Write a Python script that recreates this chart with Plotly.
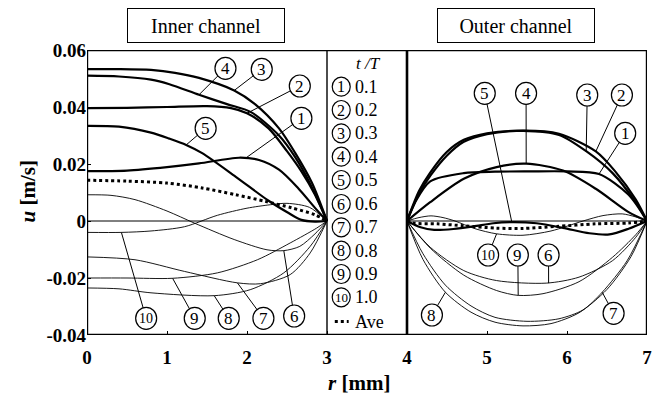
import plotly.graph_objects as go

# ---------------- data (r in mm, u in m/s) ----------------
# Inner channel (r = 0 .. 3)
r_in_1 = [0, 0.5, 1.0, 1.4, 1.9, 2.15, 2.4, 2.64, 2.85, 3.0]
u_in_1 = [0.0175, 0.0177, 0.0189, 0.0202, 0.0222, 0.0214, 0.0180, 0.0115, 0.0046, 0.0]
r_in_2 = [0, 0.5, 1.0, 1.5, 1.8, 2.0, 2.27, 2.5, 2.68, 2.85, 3.0]
u_in_2 = [0.0396, 0.0397, 0.0400, 0.0403, 0.0396, 0.0378, 0.0325, 0.0245, 0.0174, 0.0092, 0.0]
r_in_3 = [0, 0.4, 0.8, 1.1, 1.4, 1.84, 2.1, 2.4, 2.6, 2.81, 3.0]
u_in_3 = [0.0533, 0.0533, 0.0530, 0.0520, 0.0502, 0.0458, 0.0410, 0.0325, 0.0240, 0.0135, 0.0]
r_in_4 = [0, 0.4, 0.8, 1.03, 1.4, 1.75, 2.05, 2.4, 2.6, 2.8, 3.0]
u_in_4 = [0.0510, 0.0507, 0.0496, 0.0480, 0.0443, 0.0410, 0.0382, 0.0300, 0.0225, 0.0125, 0.0]
r_in_5 = [0, 0.4, 0.8, 1.03, 1.24, 1.44, 1.86, 2.27, 2.52, 2.68, 2.85, 3.0]
u_in_5 = [0.0334, 0.0331, 0.0310, 0.0289, 0.0267, 0.0238, 0.0155, 0.0071, 0.0028, 0.0004, -0.0002, 0.0]
r_in_6 = [0, 0.3, 0.6, 1.0, 1.34, 1.84, 2.25, 2.46, 2.66, 2.85, 3.0]
u_in_6 = [0.0092, 0.0090, 0.0075, 0.0035, -0.0007, -0.0065, -0.0101, -0.0104, -0.0089, -0.0045, 0.0]
r_in_7 = [0, 0.6, 1.22, 1.88, 2.17, 2.54, 2.79, 3.0]
u_in_7 = [-0.0126, -0.0136, -0.0177, -0.0217, -0.0220, -0.0188, -0.0112, 0.0]
r_in_8 = [0, 0.4, 0.8, 1.59, 2.04, 2.46, 2.79, 3.0]
u_in_8 = [-0.0235, -0.0238, -0.0252, -0.0262, -0.0241, -0.0182, -0.0089, 0.0]
r_in_9 = [0, 0.5, 1.07, 1.63, 2.13, 2.54, 2.87, 3.0]
u_in_9 = [-0.0200, -0.0200, -0.0201, -0.0182, -0.0136, -0.0077, -0.0025, 0.0]
r_in_10 = [0, 0.43, 0.8, 1.22, 1.63, 2.0, 2.29, 2.5, 2.78, 3.0]
u_in_10 = [-0.0040, -0.0040, -0.0035, -0.0020, 0.0020, 0.0045, 0.0057, 0.0062, 0.0048, 0.0]
r_in_ave = [0, 0.5, 1.0, 1.44, 1.86, 2.23, 2.56, 2.85, 3.0]
u_in_ave = [0.0143, 0.0140, 0.0133, 0.0116, 0.0092, 0.0069, 0.0046, 0.0022, 0.0]

# Outer channel (r = 4 .. 7)
r_out_1 = [4, 4.1, 4.29, 4.71, 5.1, 5.53, 6.0, 6.4, 6.77, 7]
u_out_1 = [0.0, 0.0065, 0.0139, 0.0168, 0.0173, 0.0174, 0.0174, 0.0165, 0.0092, 0.0]
r_out_2 = [4, 4.15, 4.29, 4.5, 4.71, 5.0, 5.45, 5.9, 6.36, 6.6, 6.86, 7]
u_out_2 = [0.0, 0.0095, 0.0158, 0.0230, 0.0278, 0.0305, 0.0317, 0.0306, 0.0244, 0.0175, 0.0075, 0.0]
r_out_3 = [4, 4.15, 4.29, 4.5, 4.71, 5.0, 5.45, 5.9, 6.24, 6.57, 6.86, 7]
u_out_3 = [0.0, 0.0105, 0.0170, 0.0243, 0.0285, 0.0308, 0.0316, 0.0302, 0.0245, 0.0168, 0.0065, 0.0]
r_out_4 = [4, 4.29, 4.71, 5.12, 5.49, 5.95, 6.36, 6.77, 7]
u_out_4 = [0.0, 0.0066, 0.0148, 0.0189, 0.0201, 0.0177, 0.0113, 0.0031, 0.0]
r_out_5 = [4, 4.17, 4.34, 4.58, 4.83, 5.08, 5.31, 5.62, 5.95, 6.28, 6.53, 6.77, 7]
u_out_5 = [0.0, -0.0022, -0.0031, -0.0028, -0.0019, -0.0008, -0.0004, -0.0008, -0.0024, -0.0043, -0.0047, -0.0027, 0.0]
r_out_6 = [4, 4.29, 4.71, 5.12, 5.74, 6.15, 6.57, 6.86, 7]
u_out_6 = [0.0, -0.0092, -0.0174, -0.0209, -0.0218, -0.0197, -0.0139, -0.0057, 0.0]
r_out_7 = [4, 4.2, 4.48, 4.8, 5.1, 5.5, 5.9, 6.2, 6.44, 6.75, 7]
u_out_7 = [0.0, -0.0115, -0.0225, -0.0298, -0.0338, -0.0352, -0.0343, -0.0312, -0.0250, -0.0140, 0.0]
r_out_8 = [4, 4.2, 4.48, 4.8, 5.1, 5.45, 5.8, 6.15, 6.5, 6.8, 7]
u_out_8 = [0.0, -0.0135, -0.0250, -0.0320, -0.0355, -0.0368, -0.0360, -0.0322, -0.0240, -0.0125, 0.0]
r_out_9 = [4, 4.29, 4.71, 5.12, 5.39, 5.7, 6.15, 6.57, 6.86, 7]
u_out_9 = [0.0, -0.0095, -0.0190, -0.0244, -0.0261, -0.0255, -0.0213, -0.0127, -0.0048, 0.0]
r_out_10 = [4, 4.15, 4.3, 4.45, 4.6, 4.85, 5.12, 5.45, 5.8, 6.2, 6.45, 6.69, 6.85, 7]
u_out_10 = [0.0, 0.0012, 0.0018, 0.0012, 0.0, -0.0027, -0.0045, -0.0050, -0.0035, 0.0, 0.0019, 0.0025, 0.0015, 0.0]
r_out_ave = [4, 4.1, 4.38, 4.71, 5.12, 5.45, 5.87, 6.36, 6.77, 7]
u_out_ave = [0.0, -0.0008, -0.0010, -0.0017, -0.0025, -0.0026, -0.0019, -0.0010, -0.0007, 0.0]

x_tick_vals = [0, 1, 2, 3, 4, 5, 6, 7]
y_tick_vals = [-0.04, -0.02, 0, 0.02, 0.04, 0.06]
y_tick_text = ["-0.04", "-0.02", "0", "0.02", "0.04", "0.06"]
legend_keys = ["1", "2", "3", "4", "5", "6", "7", "8", "9", "10"]
legend_vals = ["0.1", "0.2", "0.3", "0.4", "0.5", "0.6", "0.7", "0.8", "0.9", "1.0"]

# ---------------- figure ----------------
SERIF = "Liberation Serif, Times New Roman, serif"
W, H = 662, 397
ML, MR, MT, MB = 87, 10, 50, 62
PW, PH = W - ML - MR, H - MT - MB
XR, YR = [0, 7], [-0.04, 0.06]


def dx(px):
    return XR[0] + (px - ML) / PW * (XR[1] - XR[0])


def dy(py):
    return YR[1] - (py - MT) / PH * (YR[1] - YR[0])


def paper_x(px):
    return (px - ML) / PW


def paper_y(py):
    return (H - MB - py) / PH


fig = go.Figure()

thick = [(r_in_1, u_in_1), (r_in_2, u_in_2), (r_in_3, u_in_3), (r_in_4, u_in_4), (r_in_5, u_in_5),
         (r_out_1, u_out_1), (r_out_2, u_out_2), (r_out_3, u_out_3), (r_out_4, u_out_4), (r_out_5, u_out_5)]
thin = [(r_in_6, u_in_6), (r_in_7, u_in_7), (r_in_8, u_in_8), (r_in_9, u_in_9), (r_in_10, u_in_10),
        (r_out_6, u_out_6), (r_out_7, u_out_7), (r_out_8, u_out_8), (r_out_9, u_out_9), (r_out_10, u_out_10)]
ave = [(r_in_ave, u_in_ave), (r_out_ave, u_out_ave)]

for r, u in thin:
    fig.add_trace(go.Scatter(x=r, y=u, mode="lines", line=dict(color="black", width=0.9, shape="spline", smoothing=0.8),
                             showlegend=False, hoverinfo="skip"))
for r, u in thick:
    fig.add_trace(go.Scatter(x=r, y=u, mode="lines", line=dict(color="black", width=2.2, shape="spline", smoothing=0.8),
                             showlegend=False, hoverinfo="skip"))
for r, u in ave:
    fig.add_trace(go.Scatter(x=r, y=u, mode="lines",
                             line=dict(color="black", width=3, dash="dot", shape="spline", smoothing=0.8),
                             showlegend=False, hoverinfo="skip"))

shapes = []
annotations = []

# zero lines
shapes.append(dict(type="line", xref="x", yref="y", x0=0, x1=3, y0=0, y1=0, line=dict(color="black", width=1), layer="below"))
shapes.append(dict(type="line", xref="x", yref="y", x0=4, x1=7, y0=0, y1=0, line=dict(color="black", width=1), layer="below"))
# frames
shapes.append(dict(type="rect", xref="x", yref="y", x0=0, x1=7, y0=YR[0], y1=YR[1], line=dict(color="black", width=2.4), layer="above"))
shapes.append(dict(type="line", xref="x", yref="y", x0=3, x1=3, y0=YR[0], y1=YR[1], line=dict(color="black", width=1.4), layer="above"))
shapes.append(dict(type="line", xref="x", yref="y", x0=4, x1=4, y0=YR[0], y1=YR[1], line=dict(color="black", width=2.6), layer="above"))

# circled curve labels: (text, circle px, circle py, pointer end r, pointer end u)
labels = [
    ("4", 226.7, 68.3, 1.40, 0.0443), ("3", 263.3, 69.3, 1.84, 0.0458), ("2", 301.7, 86.0, 2.00, 0.0378),
    ("1", 303.3, 118.3, 1.98, 0.0220), ("5", 206.7, 128.3, 1.24, 0.0267),
    ("10", 146.7, 318.3, 0.43, -0.0040), ("9", 195.7, 318.3, 1.07, -0.0201), ("8", 230.0, 318.3, 1.59, -0.0262),
    ("7", 265.0, 318.3, 1.88, -0.0217), ("6", 296.0, 316.0, 2.46, -0.0104),
    ("5", 488.3, 93.3, 5.31, -0.0004), ("4", 530.0, 93.3, 5.49, 0.0201), ("3", 591.7, 95.0, 6.24, 0.0243),
    ("2", 626.7, 95.0, 6.36, 0.0244), ("1", 630.0, 133.3, 6.40, 0.0165),
    ("10", 491.7, 255.0, 5.12, -0.0045), ("9", 521.7, 255.0, 5.39, -0.0261), ("6", 552.7, 255.0, 5.77, -0.0218),
    ("8", 435.0, 315.0, 4.48, -0.0250), ("7", 618.3, 313.3, 6.44, -0.0250),
]


def circle(cx, cy, rad):
    return dict(type="circle", xref="x", yref="y", xsizemode="pixel", ysizemode="pixel",
                xanchor=cx, yanchor=cy, x0=-rad, x1=rad, y0=-rad - 0.5, y1=rad + 0.5,
                line=dict(color="black", width=1.2), fillcolor="white", layer="above")


for t, cpx, cpy, er, eu in labels:
    cx, cy = dx(cpx), dy(cpy)
    shapes.append(dict(type="line", xref="x", yref="y", x0=cx, y0=cy, x1=er, y1=eu,
                       line=dict(color="black", width=1), layer="above"))
for t, cpx, cpy, er, eu in labels:
    cx, cy = dx(cpx), dy(cpy)
    shapes.append(circle(cx, cy, 10.5))
    annotations.append(dict(x=cx, y=cy, xref="x", yref="y", text=t, showarrow=False,
                            font=dict(family=SERIF, size=17 if len(t) == 1 else 14, color="black")))

# legend panel
annotations.append(dict(x=dx(386), y=dy(63), xref="x", yref="y", text="<i>t /T</i>", showarrow=False,
                        xanchor="right", font=dict(family=SERIF, size=17, color="black")))
leg_rows = [86.7, 110.0, 133.3, 156.7, 180.0, 204.0, 227.3, 250.7, 274.0, 297.3]
for k, v, py in zip(legend_keys, legend_vals, leg_rows):
    shapes.append(circle(dx(343.5), dy(py), 9))
    annotations.append(dict(x=dx(343.5), y=dy(py), xref="x", yref="y", text=k, showarrow=False,
                            font=dict(family=SERIF, size=16 if len(k) == 1 else 13, color="black")))
    annotations.append(dict(x=dx(355), y=dy(py), xref="x", yref="y", text=v, showarrow=False, xanchor="left",
                            font=dict(family=SERIF, size=18, color="black")))
shapes.append(dict(type="line", xref="x", yref="y", x0=dx(337), x1=dx(351), y0=dy(321.5), y1=dy(321.5),
                   line=dict(color="black", width=3, dash="dot")))
annotations.append(dict(x=dx(355), y=dy(321.5), xref="x", yref="y", text="Ave", showarrow=False, xanchor="left",
                        font=dict(family=SERIF, size=18, color="black")))

# panel titles
for txt, cx in [("Inner channel", 207), ("Outer channel", 519.5)]:
    annotations.append(dict(x=paper_x(cx), y=paper_y(25.5), xref="paper", yref="paper", text=txt, showarrow=False,
                            xanchor="center", yanchor="middle",
                            font=dict(family=SERIF, size=20, color="black"), bordercolor="black", borderwidth=1,
                            borderpad=1, width=154, height=31, bgcolor="white"))

# axis titles
annotations.append(dict(x=paper_x(361), y=paper_y(383), xref="paper", yref="paper", xanchor="center", yanchor="middle",
                        text="<b><i>r</i> [mm]</b>", showarrow=False, font=dict(family=SERIF, size=21, color="black")))
annotations.append(dict(x=paper_x(27), y=paper_y(192), xref="paper", yref="paper", textangle=-90,
                        xanchor="center", yanchor="middle",
                        text="<b><i>u</i> [m/s]</b>", showarrow=False, font=dict(family=SERIF, size=21, color="black")))

fig.update_layout(
    width=W, height=H, margin=dict(l=ML, r=MR, t=MT, b=MB),
    paper_bgcolor="white", plot_bgcolor="white",
    shapes=shapes, annotations=annotations, showlegend=False,
    xaxis=dict(range=XR, tickvals=x_tick_vals, ticktext=[f"<b>{v}</b>" for v in x_tick_vals],
               ticks="inside", ticklen=4, tickwidth=1.2, tickcolor="black", showgrid=False, zeroline=False,
               showline=False, ticklabelstandoff=9, tickfont=dict(family=SERIF, size=19, color="black")),
    yaxis=dict(range=YR, tickvals=y_tick_vals, ticktext=[f"<b>{t}</b>" for t in y_tick_text],
               ticks="inside", ticklen=4, tickwidth=1.2, tickcolor="black", showgrid=False, zeroline=False,
               showline=False, tickfont=dict(family=SERIF, size=19, color="black")),
)

fig.write_html("out.html")
